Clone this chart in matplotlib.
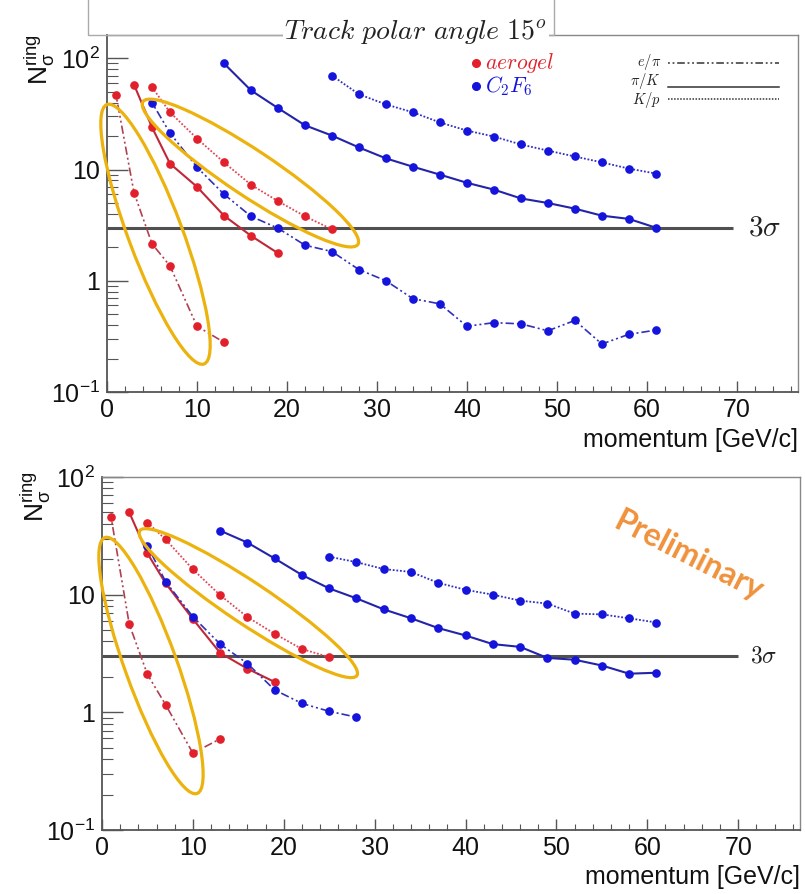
import numpy as np
import matplotlib
matplotlib.use("Agg")
import matplotlib.pyplot as plt
from matplotlib.patches import Ellipse, Rectangle
from matplotlib.lines import Line2D
from matplotlib.transforms import IdentityTransform
from matplotlib.ticker import LogLocator, FixedLocator, FixedFormatter, MultipleLocator, NullFormatter

plt.rcParams['font.family'] = ['Liberation Sans', 'DejaVu Sans']
plt.rcParams['mathtext.fontset'] = 'cm'

# ---------------- data ----------------
# top panel: track polar angle 15 deg
top_red_epi_x = [1, 3, 5, 7, 10, 13]
top_red_epi_y = [47, 6.2, 2.15, 1.36, 0.39, 0.28]
top_red_pik_x = [3, 5, 7, 10, 13, 16, 19]
top_red_pik_y = [58, 24, 11.3, 7.0, 3.85, 2.54, 1.77]
top_red_kp_x = [5, 7, 10, 13, 16, 19, 22, 25]
top_red_kp_y = [55, 32.7, 19, 11.6, 7.3, 5.2, 3.8, 2.9]
top_blue_epi_x = [5, 7, 10, 13, 16, 19, 22, 25, 28, 31, 34, 37, 40, 43, 46, 49, 52, 55, 58, 61]
top_blue_epi_y = [40, 21.3, 10.5, 6.0, 3.8, 2.97, 2.09, 1.83, 1.26, 1.0, 0.69, 0.62,
                  0.39, 0.42, 0.41, 0.355, 0.44, 0.27, 0.33, 0.36]
top_blue_pik_x = [13, 16, 19, 22, 25, 28, 31, 34, 37, 40, 43, 46, 49, 52, 55, 58, 61]
top_blue_pik_y = [90, 51.5, 35.7, 25, 20.2, 15.8, 12.6, 10.6, 9.0, 7.6, 6.6, 5.5, 5.0,
                  4.45, 3.85, 3.6, 3.0]
top_blue_kp_x = [25, 28, 31, 34, 37, 40, 43, 46, 49, 52, 55, 58, 61]
top_blue_kp_y = [70, 47.5, 38.5, 32.7, 26.5, 22.4, 19.8, 16.8, 14.8, 13.1, 11.6, 10.2, 9.2]

# bottom panel: preliminary
bot_red_epi_x = [1, 3, 5, 7, 10, 13]
bot_red_epi_y = [45.5, 5.6, 2.1, 1.16, 0.45, 0.595]
bot_red_pik_x = [3, 5, 7, 10, 13, 16, 19]
bot_red_pik_y = [50, 22.4, 12.5, 6.2, 3.2, 2.35, 1.81]
bot_red_kp_x = [5, 7, 10, 13, 16, 19, 22, 25]
bot_red_kp_y = [41, 29.5, 16.4, 9.9, 6.45, 4.65, 3.45, 2.95]
bot_blue_epi_x = [5, 7, 10, 13, 16, 19, 22, 25, 28]
bot_blue_epi_y = [26, 12.9, 6.5, 3.8, 2.6, 1.55, 1.19, 1.02, 0.91]
bot_blue_pik_x = [13, 16, 19, 22, 25, 28, 31, 34, 37, 40, 43, 46, 49, 52, 55, 58, 61]
bot_blue_pik_y = [35, 27.7, 20.3, 14.7, 11.3, 9.3, 7.5, 6.3, 5.2, 4.5, 3.8, 3.6, 2.9,
                  2.8, 2.5, 2.13, 2.17]
bot_blue_kp_x = [25, 28, 31, 34, 37, 40, 43, 46, 49, 52, 55, 58, 61]
bot_blue_kp_y = [21, 18.9, 16.5, 15.6, 12.6, 11.0, 10.0, 8.9, 8.4, 6.9, 6.8, 6.3, 5.8]

y_tick_vals = [0.1, 1, 10, 100]
y_tick_labels = [r'$\mathregular{10^{-1}}$', '1', '10', r'$\mathregular{10^{2}}$']
x_tick_vals = [0, 10, 20, 30, 40, 50, 60, 70]
threshold = 3.0

# ellipses: centre (data), major/minor (px), angle (deg)
top_ellipses = [((5.39, 2.62), 277, 54, -69.5), ((15.94, 9.3), 258, 46, -33.6)]
bot_ellipses = [((5.39, 2.50), 272, 52, -70.2), ((16.1, 8.47), 261, 42, -33.7)]

# ---------------- styles ----------------
W, H = 805, 894
RED_M, BLUE_M = '#e2202c', '#1414dc'
RED_L = {'epi': '#b04050', 'pik': '#c02838', 'kp': '#e04858'}
BLUE_L = {'epi': '#3030b8', 'pik': '#2424a8', 'kp': '#3030c0'}
LS = {'epi': (0, (1.2, 1.8, 1.2, 1.8, 5, 1.8)), 'pik': '-', 'kp': (0, (1, 1))}
LW = {'epi': 1.2, 'pik': 1.5, 'kp': 1.3}
GOLD = '#ecb20e'

fig = plt.figure(figsize=(W / 100, H / 100), dpi=100)


def rect(l, t, r, b):
    return [l / W, 1 - b / H, (r - l) / W, (b - t) / H]


def px(x, y):
    return x / W, 1 - y / H


def style_axes(ax, xmax, ymax):
    ax.set_yscale('log')
    ax.set_xlim(0, xmax)
    ax.set_ylim(0.1, ymax)
    ax.yaxis.set_major_locator(FixedLocator(y_tick_vals))
    ax.yaxis.set_major_formatter(FixedFormatter(y_tick_labels))
    ax.yaxis.set_minor_locator(LogLocator(base=10, subs=np.arange(2, 10)))
    ax.yaxis.set_minor_formatter(NullFormatter())
    ax.xaxis.set_major_locator(FixedLocator(x_tick_vals))
    ax.xaxis.set_minor_locator(MultipleLocator(2))
    ax.tick_params(axis='both', which='both', direction='in', colors='#555555',
                   labelcolor='#111111', labelsize=18)
    ax.tick_params(axis='x', which='major', length=8, width=1, pad=4)
    ax.tick_params(axis='x', which='minor', length=4, width=0.8)
    ax.tick_params(axis='y', which='major', length=15, width=1, pad=5)
    ax.tick_params(axis='y', which='minor', length=8, width=0.8)
    for s in ('left', 'bottom'):
        ax.spines[s].set_color('#555555')
        ax.spines[s].set_linewidth(1.3)
    for s in ('top', 'right'):
        ax.spines[s].set_color('#888888')
        ax.spines[s].set_linewidth(1.0)
    ax.set_xlabel('momentum [GeV/c]', fontsize=18, color='#111111')
    ax.xaxis.set_label_coords(1.0, -0.10)
    ax.xaxis.label.set_horizontalalignment('right')


def draw_series(ax, data):
    for (x, y, kind, color) in data:
        lc = RED_L[kind] if color == 'r' else BLUE_L[kind]
        mc = RED_M if color == 'r' else BLUE_M
        ax.plot(x, y, linestyle=LS[kind], color=lc, lw=LW[kind], marker='o',
                ms=5.2, mfc=mc, mec=mc, zorder=3)


def draw_ellipses(ax, ells):
    for (c, w, h, ang) in ells:
        cx, cy = ax.transData.transform(c)
        e = Ellipse((cx, cy), w, h, angle=ang, transform=IdentityTransform(),
                    fill=False, ec=GOLD, lw=2.3, clip_on=False, zorder=4)
        ax.add_artist(e)


# ---------------- top panel ----------------
ax1 = fig.add_axes(rect(107, 35, 798, 392))
style_axes(ax1, 76.8, 162)
draw_series(ax1, [
    (top_red_epi_x, top_red_epi_y, 'epi', 'r'),
    (top_red_pik_x, top_red_pik_y, 'pik', 'r'),
    (top_red_kp_x, top_red_kp_y, 'kp', 'r'),
    (top_blue_epi_x, top_blue_epi_y, 'epi', 'b'),
    (top_blue_pik_x, top_blue_pik_y, 'pik', 'b'),
    (top_blue_kp_x, top_blue_kp_y, 'kp', 'b'),
])
ax1.hlines(threshold, 0, 69.6, color='#505050', lw=2.2, zorder=2)
ax1.text(71.2, threshold, r'$3\sigma$', fontsize=21, va='center', ha='left', color='#222222')
draw_ellipses(ax1, top_ellipses)

# title box and title
fig.patches.append(Rectangle((88 / W, 1 - 35 / H), (554 - 88) / W, 45 / H,
                             transform=fig.transFigure, fill=False, ec='#aaaaaa', lw=1.0))
fig.text(416 / W, 1 - 31 / H, r'$Track\ polar\ angle\ 15^{o}$', fontsize=20,
         ha='center', va='center', color='#222222',
         bbox=dict(facecolor='white', edgecolor='none', pad=1.0))

# legend (top panel)
for (yy, col, lab) in [(63, RED_M, r'$aerogel$'), (86, BLUE_M, r'$C_2F_6$')]:
    fig.lines.append(Line2D([px(476, yy)[0]], [px(476, yy)[1]], marker='o', ms=5.5,
                            color=col, transform=fig.transFigure))
    fig.text(px(485, yy)[0], px(485, yy)[1], lab, fontsize=15.5, color=col,
             ha='left', va='center')
for (ty, ly, kind, lab) in [(62, 63, 'epi', r'$e/\pi$'), (81, 87, 'pik', r'$\pi/K$'),
                            (100, 99, 'kp', r'$K/p$')]:
    fig.text(px(661, ty)[0], px(661, ty)[1], lab, fontsize=10.5, color='#222222',
             ha='right', va='center')
    fig.lines.append(Line2D([px(668, ly)[0], px(779, ly)[0]], [px(668, ly)[1], px(779, ly)[1]],
                            color='#333333', ls=LS[kind], lw=1.1, transform=fig.transFigure))

fig.text(40 / W, 1 - 60 / H, r'$\mathregular{N_{\sigma}^{ring}}$', fontsize=19,
         rotation=90, ha='center', va='center', color='#111111')

# ---------------- bottom panel ----------------
ax2 = fig.add_axes(rect(102, 477, 800, 830))
style_axes(ax2, 76.8, 100)
draw_series(ax2, [
    (bot_red_epi_x, bot_red_epi_y, 'epi', 'r'),
    (bot_red_pik_x, bot_red_pik_y, 'pik', 'r'),
    (bot_red_kp_x, bot_red_kp_y, 'kp', 'r'),
    (bot_blue_epi_x, bot_blue_epi_y, 'epi', 'b'),
    (bot_blue_pik_x, bot_blue_pik_y, 'pik', 'b'),
    (bot_blue_kp_x, bot_blue_kp_y, 'kp', 'b'),
])
ax2.hlines(threshold, 0, 70.0, color='#505050', lw=2.2, zorder=2)
ax2.text(71.3, threshold, r'$3\sigma$', fontsize=17, va='center', ha='left', color='#222222')
draw_ellipses(ax2, bot_ellipses)
ax2.text(0.84, 0.775, 'Preliminary', transform=ax2.transAxes, fontsize=23,
         fontweight='bold', family=['Lato', 'DejaVu Sans'], color='#f0923c',
         rotation=-27, ha='center', va='center', rotation_mode='anchor')

fig.text(36 / W, 1 - 497 / H, r'$\mathregular{N_{\sigma}^{ring}}$', fontsize=19,
         rotation=90, ha='center', va='center', color='#111111')

fig.savefig('out.png', dpi=100)
